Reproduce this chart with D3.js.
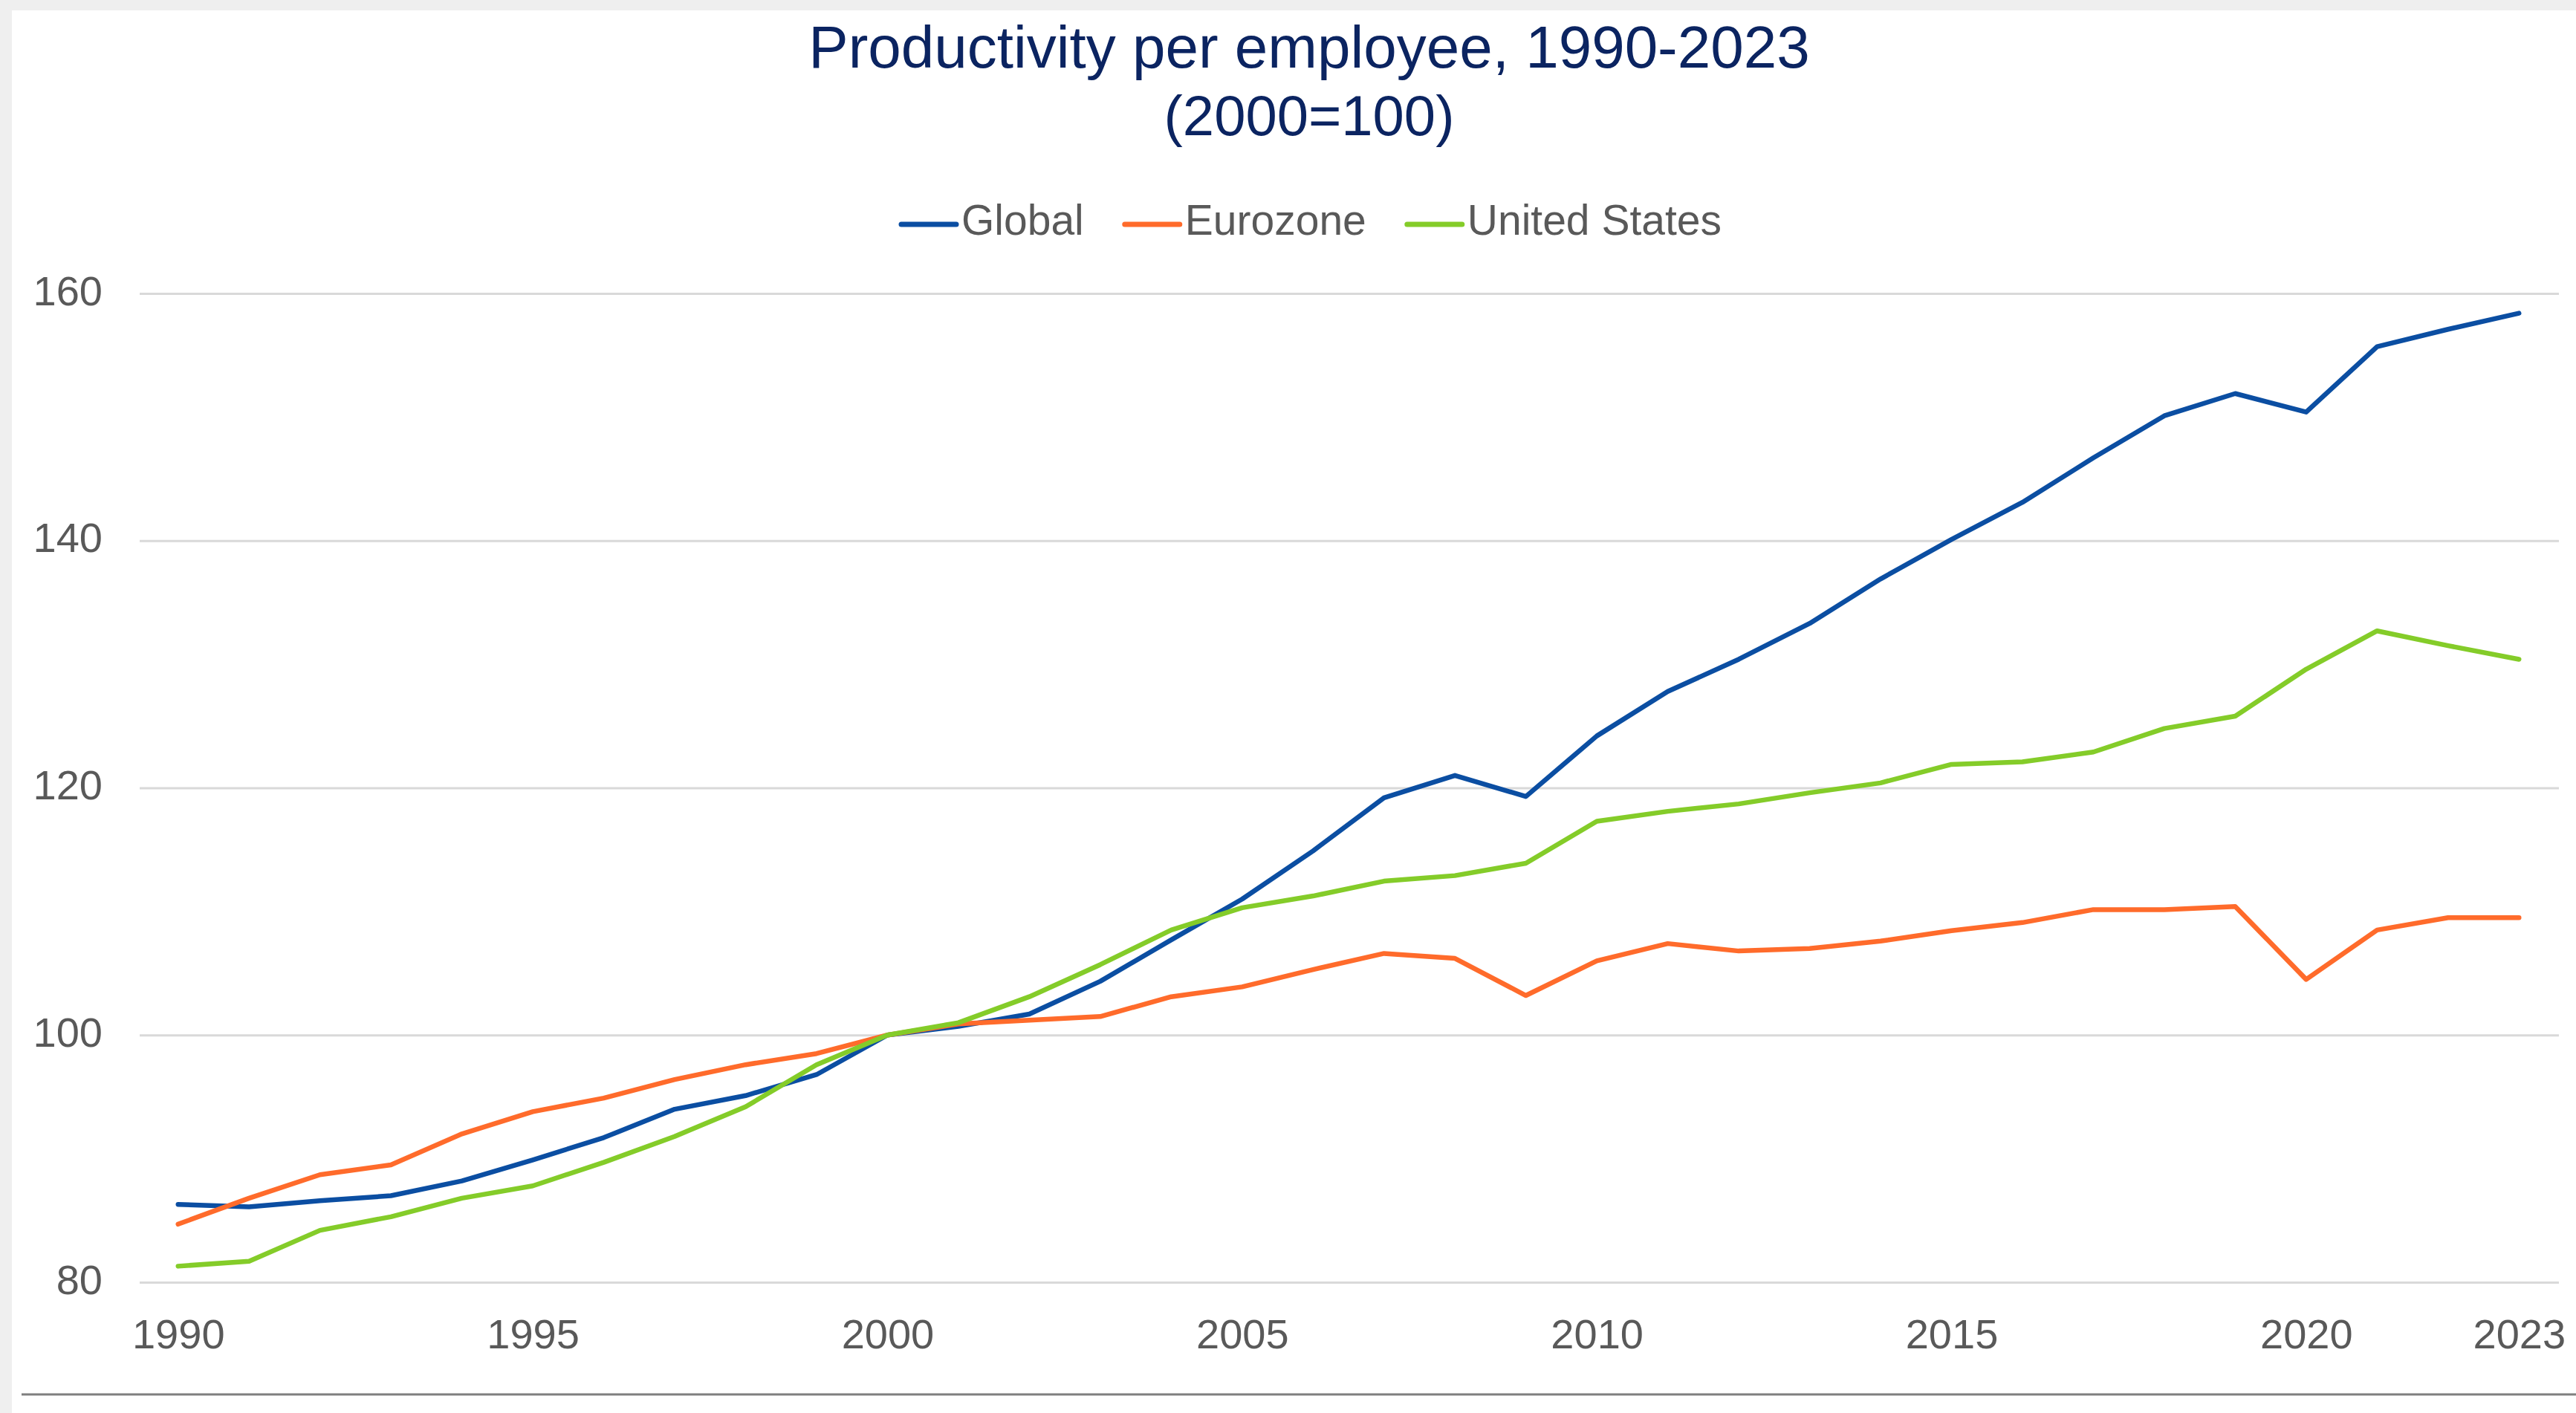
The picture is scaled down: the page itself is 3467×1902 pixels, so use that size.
<!DOCTYPE html>
<html>
<head>
<meta charset="utf-8">
<script src="https://cdn.jsdelivr.net/npm/d3@7"></script>
<style>
  html, body { margin: 0; padding: 0; background: #efefef; }
  svg { display: block; }
  text { font-family: "Liberation Sans", Arial, sans-serif; }
</style>
</head>
<body>
<svg id="chart" width="3467" height="1902"></svg>
<script>
// Productivity per employee index, 2000 = 100
const years = d3.range(1990, 2024);

const globalValues = [
  86.3, 86.1, 86.6, 87.0, 88.2, 89.9, 91.7, 94.0, 95.1, 96.8,
  100.0, 100.7, 101.7, 104.35, 107.7, 111.0, 114.9, 119.2, 121.0, 119.3,
  124.2, 127.8, 130.4, 133.3, 136.9, 140.1, 143.1, 146.7, 150.1, 151.9,
  150.4, 155.7, 157.1, 158.4
];

const eurozoneValues = [
  84.7, 86.8, 88.7, 89.5, 92.0, 93.8, 94.9, 96.4, 97.6, 98.5,
  100.0, 100.9, 101.2, 101.5, 103.1, 103.9, 105.3, 106.6, 106.2, 103.2,
  106.0, 107.4, 106.8, 107.0, 107.6, 108.45, 109.1, 110.15, 110.15, 110.4,
  104.5, 108.5, 109.5, 109.5
];

const usValues = [
  81.3, 81.7, 84.2, 85.3, 86.8, 87.8, 89.7, 91.8, 94.2, 97.6,
  100.0, 101.0, 103.1, 105.7, 108.5, 110.3, 111.25, 112.45, 112.9, 113.9,
  117.3, 118.1, 118.7, 119.6, 120.4, 121.9, 122.1, 122.9, 124.8, 125.8,
  129.6, 132.7, 131.5, 130.4
];

const seriesNames = ["Global", "Eurozone", "United States"];
const seriesColors = ["#0b4ea2", "#ff6b2b", "#84cc29"];
const seriesValues = [globalValues, eurozoneValues, usValues];

const yTicks = [80, 100, 120, 140, 160];
const xTickYears = [1990, 1995, 2000, 2005, 2010, 2015, 2020, 2023];

const titleText = "Productivity per employee, 1990-2023";
const subtitleText = "(2000=100)";

// ---- layout ----
const svg = d3.select("#chart");
const W = 3467, H = 1902;
const gridLeft = 188, gridRight = 3444;
const plotTop = 395, plotBottom = 1726;

// white card
svg.append("rect")
  .attr("x", 16).attr("y", 14)
  .attr("width", W - 16).attr("height", H - 14)
  .attr("fill", "#ffffff");

const x = d3.scalePoint()
  .domain(years)
  .range([192, 3438])
  .padding(0.5);

const y = d3.scaleLinear()
  .domain([80, 160])
  .range([plotBottom, plotTop]);

// gridlines
svg.append("g")
  .attr("transform", `translate(${gridLeft},0)`)
  .call(d3.axisLeft(y).tickValues(yTicks).tickSize(-(gridRight - gridLeft)).tickFormat(""))
  .call(g => g.select(".domain").remove())
  .call(g => g.selectAll("line").attr("stroke", "#d9d9d9").attr("stroke-width", 3));

// y axis labels
svg.append("g")
  .attr("transform", `translate(${gridLeft},0)`)
  .call(d3.axisLeft(y).tickValues(yTicks).tickSize(0).tickPadding(50))
  .call(g => g.select(".domain").remove())
  .call(g => g.selectAll("text")
    .attr("font-size", 56)
    .attr("fill", "#595959")
    .attr("dy", "0.27em")
    .style("font-family", "'Liberation Sans', Arial, sans-serif"));

// x axis labels
svg.append("g")
  .attr("transform", `translate(0,${plotBottom})`)
  .call(d3.axisBottom(x).tickValues(xTickYears).tickSize(0).tickPadding(49))
  .call(g => g.select(".domain").remove())
  .call(g => g.selectAll("text")
    .attr("font-size", 56)
    .attr("fill", "#595959")
    .style("font-family", "'Liberation Sans', Arial, sans-serif"));

// series lines
const line = d3.line()
  .x((d, i) => x(years[i]))
  .y(d => y(d));

svg.append("g")
  .selectAll("path")
  .data(seriesValues)
  .join("path")
  .attr("d", d => line(d))
  .attr("fill", "none")
  .attr("stroke", (d, i) => seriesColors[i])
  .attr("stroke-width", 6.5)
  .attr("stroke-linejoin", "round")
  .attr("stroke-linecap", "round");

// title
svg.append("text")
  .attr("x", 1762).attr("y", 91)
  .attr("text-anchor", "middle")
  .attr("font-size", 80)
  .attr("fill", "#0b2461")
  .text(titleText);

svg.append("text")
  .attr("x", 1762).attr("y", 182)
  .attr("text-anchor", "middle")
  .attr("font-size", 76)
  .attr("fill", "#0b2461")
  .text(subtitleText);

// legend
const legend = svg.append("g");
const swatchLen = 74, swatchGap = 7, itemGap = 55, legendFont = 57;
let cursor = 0;
seriesNames.forEach((name, i) => {
  const item = legend.append("g").attr("transform", `translate(${cursor},0)`);
  item.append("line")
    .attr("x1", 0).attr("x2", swatchLen)
    .attr("y1", 0).attr("y2", 0)
    .attr("stroke", seriesColors[i])
    .attr("stroke-width", 7)
    .attr("stroke-linecap", "round");
  const t = item.append("text")
    .attr("x", swatchLen + swatchGap)
    .attr("y", 14)
    .attr("font-size", legendFont)
    .attr("fill", "#595959")
    .text(name);
  cursor += swatchLen + swatchGap + t.node().getComputedTextLength() + itemGap;
});
const legendWidth = cursor - itemGap;
legend.attr("transform", `translate(${1765 - legendWidth / 2},302)`);

// bottom rule
svg.append("line")
  .attr("x1", 29).attr("x2", W)
  .attr("y1", 1877).attr("y2", 1877)
  .attr("stroke", "#7f7f7f")
  .attr("stroke-width", 3);
</script>
</body>
</html>
